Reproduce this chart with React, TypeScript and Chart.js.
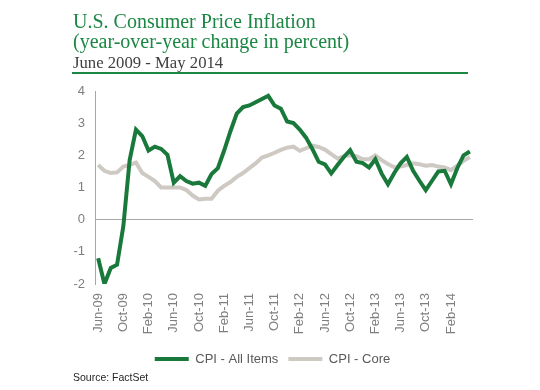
import React, { useEffect, useRef } from "react";
import { Chart, registerables } from "chart.js";

Chart.register(...registerables);

const months = [
  "Jun-09", "Jul-09", "Aug-09", "Sep-09", "Oct-09", "Nov-09", "Dec-09",
  "Jan-10", "Feb-10", "Mar-10", "Apr-10", "May-10", "Jun-10", "Jul-10", "Aug-10", "Sep-10", "Oct-10", "Nov-10", "Dec-10",
  "Jan-11", "Feb-11", "Mar-11", "Apr-11", "May-11", "Jun-11", "Jul-11", "Aug-11", "Sep-11", "Oct-11", "Nov-11", "Dec-11",
  "Jan-12", "Feb-12", "Mar-12", "Apr-12", "May-12", "Jun-12", "Jul-12", "Aug-12", "Sep-12", "Oct-12", "Nov-12", "Dec-12",
  "Jan-13", "Feb-13", "Mar-13", "Apr-13", "May-13", "Jun-13", "Jul-13", "Aug-13", "Sep-13", "Oct-13", "Nov-13", "Dec-13",
  "Jan-14", "Feb-14", "Mar-14", "Apr-14", "May-14",
];

const shownTicks = [
  "Jun-09", "Oct-09", "Feb-10", "Jun-10", "Oct-10", "Feb-11", "Jun-11", "Oct-11",
  "Feb-12", "Jun-12", "Oct-12", "Feb-13", "Jun-13", "Oct-13", "Feb-14",
];

const cpiAllItems = [
  -1.2, -2.0, -1.5, -1.4, -0.2, 1.85, 2.8,
  2.6, 2.15, 2.27, 2.2, 2.02, 1.15, 1.35, 1.2, 1.12, 1.15, 1.05, 1.42,
  1.6, 2.15, 2.75, 3.3, 3.5, 3.55, 3.65, 3.75, 3.85, 3.55, 3.45, 3.05,
  3.0, 2.8, 2.55, 2.2, 1.8, 1.72, 1.44, 1.7, 1.95, 2.16, 1.8, 1.76,
  1.62, 1.88, 1.43, 1.1, 1.45, 1.75, 1.95, 1.52, 1.21, 0.92, 1.21, 1.5,
  1.52, 1.1, 1.6, 2.0, 2.12,
];

const cpiCore = [
  1.7, 1.52, 1.45, 1.47, 1.65, 1.7, 1.78,
  1.45, 1.33, 1.2, 1.0, 1.0, 1.0, 1.0, 0.92, 0.75, 0.63, 0.65, 0.65,
  0.9, 1.05, 1.17, 1.33, 1.45, 1.6, 1.75, 1.93, 2.0, 2.08, 2.17, 2.24,
  2.27, 2.14, 2.22, 2.3, 2.26, 2.18, 2.04, 1.9, 1.97, 2.0, 1.97, 1.88,
  1.88, 2.0, 1.85, 1.73, 1.63, 1.65, 1.7, 1.75, 1.72, 1.68, 1.7, 1.65,
  1.62, 1.54, 1.68, 1.83, 1.95,
];

const yTicks = [-2, -1, 0, 1, 2, 3, 4];

const GREEN_LINE = "#18793b";
const GRAY_LINE = "#cfc9c4";
const AXIS_GRAY = "#a6a6a6";
const TICK_GRAY = "#7f7f7f";
const SANS = "'Liberation Sans', Arial, sans-serif";
const SERIF = "'Liberation Serif', 'Times New Roman', serif";

export default function App() {
  const canvasRef = useRef<HTMLCanvasElement | null>(null);

  useEffect(() => {
    const canvas = canvasRef.current;
    if (!canvas) return;
    const chart = new Chart(canvas, {
      type: "line",
      data: {
        labels: months,
        datasets: [
          {
            label: "CPI - All Items",
            data: cpiAllItems,
            borderColor: GREEN_LINE,
            backgroundColor: GREEN_LINE,
            borderWidth: 4,
            pointRadius: 0,
            tension: 0,
          },
          {
            label: "CPI - Core",
            data: cpiCore,
            borderColor: GRAY_LINE,
            backgroundColor: GRAY_LINE,
            borderWidth: 4,
            pointRadius: 0,
            tension: 0,
          },
        ],
      },
      options: {
        responsive: false,
        animation: false,
        devicePixelRatio: 1,
        layout: { padding: { left: 72, right: 67, top: 91, bottom: 14.5 } },
        font: { family: SANS },
        scales: {
          x: {
            type: "category",
            offset: true,
            grid: { display: false, drawTicks: false },
            border: { display: false },
            ticks: {
              autoSkip: false,
              minRotation: 90,
              maxRotation: 90,
              padding: 9,
              color: TICK_GRAY,
              font: { family: SANS, size: 13 },
              callback: function (_v: any, i: number) {
                const lab = months[i];
                return shownTicks.includes(lab) ? lab : null;
              },
            },
            afterFit: (s: any) => {
              s.height = 58.5;
            },
          },
          y: {
            min: yTicks[0],
            max: yTicks[yTicks.length - 1],
            afterBuildTicks: (s: any) => {
              s.ticks = yTicks.map((v) => ({ value: v }));
            },
            grid: {
              drawTicks: false,
              color: (ctx: any) => (ctx.tick && ctx.tick.value === 0 ? AXIS_GRAY : "rgba(0,0,0,0)"),
              lineWidth: 1,
            },
            border: { display: true, color: AXIS_GRAY, width: 1 },
            ticks: {
              padding: 10,
              color: TICK_GRAY,
              font: { family: SANS, size: 13 },
            },
            afterFit: (s: any) => {
              s.width = 23;
            },
          },
        },
        plugins: {
          title: { display: false },
          tooltip: { enabled: false },
          legend: {
            display: true,
            position: "bottom",
            labels: {
              boxWidth: 34,
              boxHeight: 4,
              padding: 10,
              color: "#595959",
              font: { family: SANS, size: 13 },
              generateLabels: (c: any) =>
                Chart.defaults.plugins.legend.labels
                  .generateLabels(c)
                  .map((l: any) => ({ ...l, lineWidth: 0, fillStyle: l.strokeStyle })),
            },
          },
        },
      },
    } as any);
    return () => chart.destroy();
  }, []);

  return (
    <div
      style={{
        position: "fixed",
        left: 0,
        top: 0,
        width: 540,
        height: 390,
        background: "#ffffff",
        overflow: "hidden",
      }}
    >
      <canvas
        ref={canvasRef}
        width={540}
        height={390}
        style={{ position: "absolute", left: 0, top: 0, width: 540, height: 390 }}
      />
      <div
        style={{
          position: "absolute",
          left: 73,
          top: 11.25,
          fontFamily: SERIF,
          fontSize: 20,
          lineHeight: "20px",
          color: "#1a8743",
          whiteSpace: "nowrap",
        }}
      >
        <div>U.S. Consumer Price Inflation</div>
        <div>(year-over-year change in percent)</div>
      </div>
      <div
        style={{
          position: "absolute",
          left: 73,
          top: 54.5,
          fontFamily: SERIF,
          fontSize: 16.7,
          lineHeight: "16.7px",
          color: "#404040",
          whiteSpace: "nowrap",
        }}
      >
        June 2009 - May 2014
      </div>
      <div
        style={{
          position: "absolute",
          left: 72,
          top: 72,
          width: 396,
          height: 2,
          background: "#1a8743",
        }}
      />
      <div
        style={{
          position: "absolute",
          left: 73,
          top: 372,
          fontFamily: SANS,
          fontSize: 10.5,
          lineHeight: "10.5px",
          color: "#262626",
          whiteSpace: "nowrap",
        }}
      >
        Source: FactSet
      </div>
    </div>
  );
}
